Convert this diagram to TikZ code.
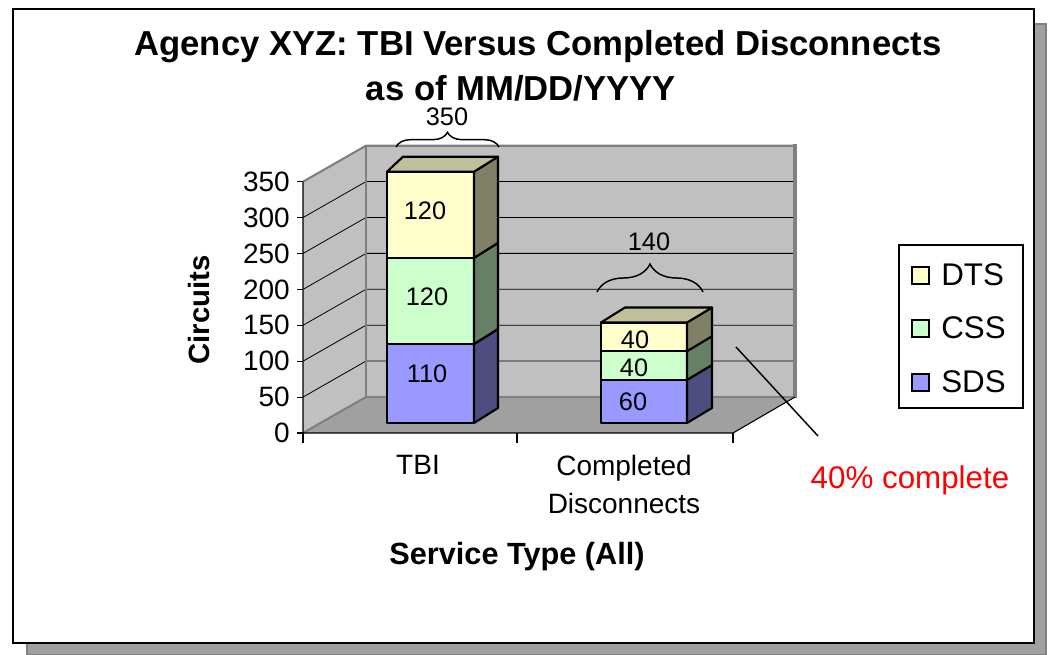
\documentclass[tikz,border=0pt]{standalone}
\usepackage{fontspec}
\setmainfont{Liberation Sans}
\usetikzlibrary{decorations.pathreplacing}

\definecolor{sdsfront}{HTML}{9999FF}
\definecolor{sdsside}{HTML}{4D4D80}
\definecolor{cssfront}{HTML}{CCFFCC}
\definecolor{cssside}{HTML}{668066}
\definecolor{dtsfront}{HTML}{FFFFCC}
\definecolor{dtsside}{HTML}{808066}
\definecolor{dtstop}{HTML}{BFBF99}
\definecolor{wallgray}{HTML}{C0C0C0}
\definecolor{floorgray}{HTML}{A0A0A0}
\definecolor{edgegray}{HTML}{808080}
\definecolor{shadowgray}{HTML}{A0A0A0}

\begin{document}
\begin{tikzpicture}
        [x=0.75pt, y=-0.75pt,
        frame/.style={draw=black, fill=white, line width=2.2pt},
        wall/.style={fill=wallgray},
        wedge/.style={edgegray, line width=1.6pt},
        grid/.style={black, line width=0.6pt},
        axis/.style={black, line width=0.8pt},
        seg/.style={draw=black, line width=1.6pt, line join=round},
        txt/.style={font=\fontsize{21}{28.5}\selectfont},
        small/.style={font=\fontsize{19}{22}\selectfont},
        big/.style={font=\fontsize{23.5}{28}\selectfont},
        boldtxt/.style={font=\fontsize{22}{25}\selectfont\bfseries},
        brc/.style={decorate, line width=1.1pt}]

        \useasboundingbox (0,0) rectangle (1050,655);

        % frame with its shadow
        \fill[shadowgray, draw=edgegray, line width=0.8pt] (27,24) rectangle (1046,655);
        \draw[frame] (13,9) rectangle (1034,643);

        % title
        \node[font=\fontsize{26}{30}\selectfont\bfseries] (title1) at (538,47) {Agency XYZ: TBI Versus Completed Disconnects};
        \node[font=\fontsize{26}{30}\selectfont\bfseries] (title2) at (521,88) {as of MM/DD/YYYY};

        % walls and floor
        \fill[wall] (366,145.7) rectangle (795,397);
        \fill[wall] (303,181.7) -- (366,145.7) -- (366,397) -- (303,433) -- cycle;
        \fill[floorgray] (303,433) -- (366,397) -- (795,397) -- (733,433) -- cycle;

        % gridlines
        \foreach \v in {50,100,...,300}
            \draw[grid] (303,{433-0.718*\v}) -- (366,{397-0.718*\v}) -- (795,{397-0.718*\v});

        % wall edges
        \draw[wedge] (303,181.7) -- (366,145.7) -- (795,145.7);
        \draw[wedge] (366,145.7) -- (366,397) -- (795,397);
        \draw[wedge] (303,433) -- (366,397);
        \draw[edgegray, line width=2.4pt] (795,144.5) -- (795,398);

        % axes
        \draw[axis] (303,181.7) -- (303,433) -- (733,433) -- (795,397);
        \foreach \v in {0,50,...,350} {
            \draw[axis] (297,{433-0.718*\v}) -- (303,{433-0.718*\v});
            \node[txt, anchor=east, inner sep=0pt] (t\v) at (290,{433-0.718*\v}) {\v};
        }
        \foreach \x in {303,517,733}
            \draw[axis] (\x,433) -- (\x,443);

        % TBI bar
        \draw[seg, fill=sdsfront] (387,423) rectangle (474,344);
        \draw[seg, fill=sdsside] (474,423) -- (498,408) -- (498,329) -- (474,344) -- cycle;
        \draw[seg, fill=cssfront] (387,344) rectangle (474,257.9);
        \draw[seg, fill=cssside] (474,344) -- (498,329) -- (498,242.9) -- (474,257.9) -- cycle;
        \draw[seg, fill=dtsfront] (387,257.9) rectangle (474,171.7);
        \draw[seg, fill=dtsside] (474,257.9) -- (498,242.9) -- (498,156.7) -- (474,171.7) -- cycle;
        \draw[seg, fill=dtstop] (387,171.7) -- (474,171.7) -- (498,156.7) -- (403,156.7) -- cycle;

        \node[small] (tbisds) at (427,374) {110};
        \node[small] (tbicss) at (427,297) {120};
        \node[small] (tbidts) at (425,211) {120};

        % Completed Disconnects bar
        \draw[seg, fill=sdsfront] (601,423) rectangle (687,379.9);
        \draw[seg, fill=sdsside] (687,423) -- (712,408) -- (712,364.9) -- (687,379.9) -- cycle;
        \draw[seg, fill=cssfront] (601,379.9) rectangle (687,351.2);
        \draw[seg, fill=cssside] (687,379.9) -- (712,364.9) -- (712,336.2) -- (687,351.2) -- cycle;
        \draw[seg, fill=dtsfront] (601,351.2) rectangle (687,322.5);
        \draw[seg, fill=dtsside] (687,351.2) -- (712,336.2) -- (712,307.5) -- (687,322.5) -- cycle;
        \draw[seg, fill=dtstop] (601,322.5) -- (687,322.5) -- (712,307.5) -- (625,307.5) -- cycle;

        \node[small] (cdsds) at (633,402) {60};
        \node[small] (cdcss) at (634,368) {40};
        \node[small] (cddts) at (635,340) {40};

        % totals with braces
        \draw[brc, decoration={brace, amplitude=11pt}] (396,147) -- (499,147);
        \node[small] (tbitotal) at (447,117) {350};
        \draw[brc, decoration={brace, amplitude=21pt}] (597,292) -- (703,292);
        \node[small] (cdtotal) at (649,242) {140};

        % axis labels
        \node[txt] (tbi) at (418,465) {TBI};
        \node[txt, align=center] (cd) at (624,484) {Completed\\Disconnects};
        \node[boldtxt, rotate=90] (ylab) at (199,310) {Circuits};
        \node[boldtxt, font=\fontsize{23}{27}\selectfont\bfseries] (xlab) at (517,557) {Service Type (All)};

        % legend
        \draw[black, line width=0.8pt, fill=white] (899,245) rectangle (1023,408);
        \draw[black, line width=1pt, fill=dtsfront] (912,267) rectangle (929,284);
        \draw[black, line width=1pt, fill=cssfront] (912,320) rectangle (929,337);
        \draw[black, line width=1pt, fill=sdsfront] (912,374) rectangle (929,391);
        \node[big, anchor=west, inner sep=0pt] (ldts) at (941,275) {DTS};
        \node[big, anchor=west, inner sep=0pt] (lcss) at (941,328) {CSS};
        \node[big, anchor=west, inner sep=0pt] (lsds) at (941,382) {SDS};

        % completion note
        \coordinate (ptr) at (736,347);
        \coordinate (ptrend) at (818,436);
        \draw[black, line width=1.1pt] (ptr) -- (ptrend);
        \node[big, text=red] (note) at (910,480) {40\% complete};

    \end{tikzpicture}
\end{document}
